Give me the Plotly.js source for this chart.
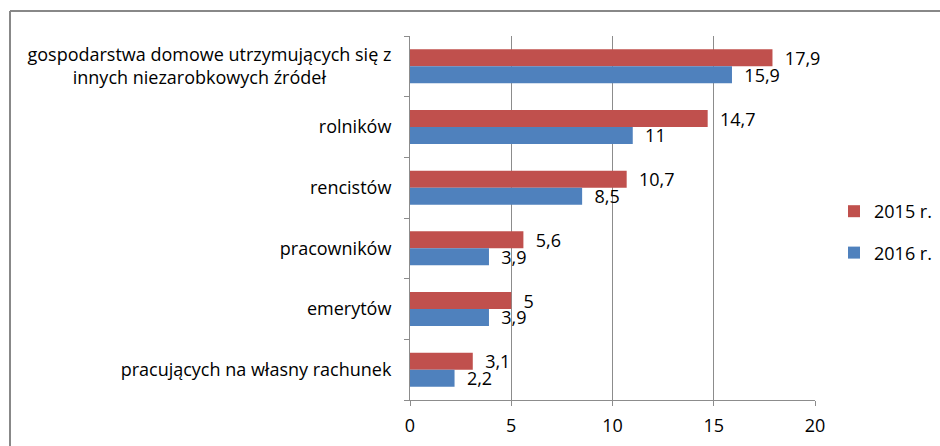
<!DOCTYPE html>
<html>
<head>
<meta charset="utf-8">
<script src="https://cdn.plot.ly/plotly-3.0.1.min.js"></script>
<style>html,body{margin:0;padding:0;background:#fff;}#chart{width:940px;height:446px;}</style>
</head>
<body>
<div id="chart"></div>
<script>
const categories = [
  "gospodarstwa domowe utrzymujących się z<br>innych niezarobkowych źródeł",
  "rolników",
  "rencistów",
  "pracowników",
  "emerytów",
  "pracujących na własny rachunek"
];
const series2015 = [17.9, 14.7, 10.7, 5.6, 5, 3.1];
const series2016 = [15.9, 11, 8.5, 3.9, 3.9, 2.2];
const seriesNames = ["2015 r.", "2016 r."];
const xTicks = [0, 5, 10, 15, 20];

// centre the second line of the first (two-line) label under the first line
const tickText = categories.map((c, i) => i === 0 ? c + '\u00a0'.repeat(14) : c);

const FONT = "'Open Sans', Lato, sans-serif";
const FS = 18;
const L = 410, R = 815, T = 36, B = 400;
const px = x => (x - L) / (R - L);
const py = y => (B - y) / (B - T);

const common = {
  type: 'bar', orientation: 'h', y: categories,
  textposition: 'outside', cliponaxis: false, constraintext: 'none',
  texttemplate: '\u00a0\u00a0%{x}',
  textfont: {family: FONT, size: FS, color: '#000'},
  hoverinfo: 'none'
};
const data = [
  Object.assign({}, common, {x: series2015, name: seriesNames[0],
    marker: {color: '#C0504D'}, legendgroup: 'a'}),
  Object.assign({}, common, {x: series2016, name: seriesNames[1],
    marker: {color: '#4F81BD'}, legendgroup: 'b'})
];

const layout = {
  width: 940, height: 446,
  separators: ', ',
  margin: {l: L, r: 940 - R, t: T, b: 446 - B, pad: 0, autoexpand: false},
  paper_bgcolor: '#fff', plot_bgcolor: '#fff',
  barmode: 'group', bargap: 0.44, bargroupgap: 0,
  font: {family: FONT, size: FS, color: '#000'},
  xaxis: {
    range: [0, 20], tickvals: xTicks, ticktext: xTicks.map(String),
    showgrid: true, gridcolor: '#8c8c8c', gridwidth: 1,
    showline: true, linecolor: '#8c8c8c', linewidth: 1,
    ticks: 'outside', ticklen: 5, tickcolor: '#8c8c8c',
    zeroline: false, fixedrange: true, automargin: false, ticklabelstandoff: 4,
    tickfont: {family: FONT, size: FS, color: '#000'}
  },
  yaxis: {
    autorange: 'reversed', type: 'category',
    tickmode: 'array', tickvals: categories, ticktext: tickText,
    showline: true, linecolor: '#8c8c8c', linewidth: 1,
    ticks: 'outside', ticklen: 5, tickcolor: '#8c8c8c', tickson: 'boundaries',
    showgrid: false, ticklabelstandoff: 14, automargin: false,
    tickfont: {family: FONT, size: FS, color: '#000'}
  },
  showlegend: true,
  legend: {
    xref: 'container', yref: 'container',
    x: 834 / 940, y: (446 - 232) / 446, xanchor: 'left', yanchor: 'middle',
    font: {family: FONT, size: FS, color: '#000'},
    tracegroupgap: 15, bgcolor: 'rgba(0,0,0,0)', itemwidth: 30
  },
  shapes: [
    {type: 'line', xref: 'paper', yref: 'paper', x0: px(10), x1: px(942), y0: py(11), y1: py(11),
      line: {color: '#888888', width: 2}},
    {type: 'line', xref: 'paper', yref: 'paper', x0: px(10), x1: px(10), y0: py(11), y1: py(448),
      line: {color: '#888888', width: 2}}
  ]
};

Plotly.newPlot('chart', data, layout, {displayModeBar: false, staticPlot: true});
</script>
</body>
</html>
